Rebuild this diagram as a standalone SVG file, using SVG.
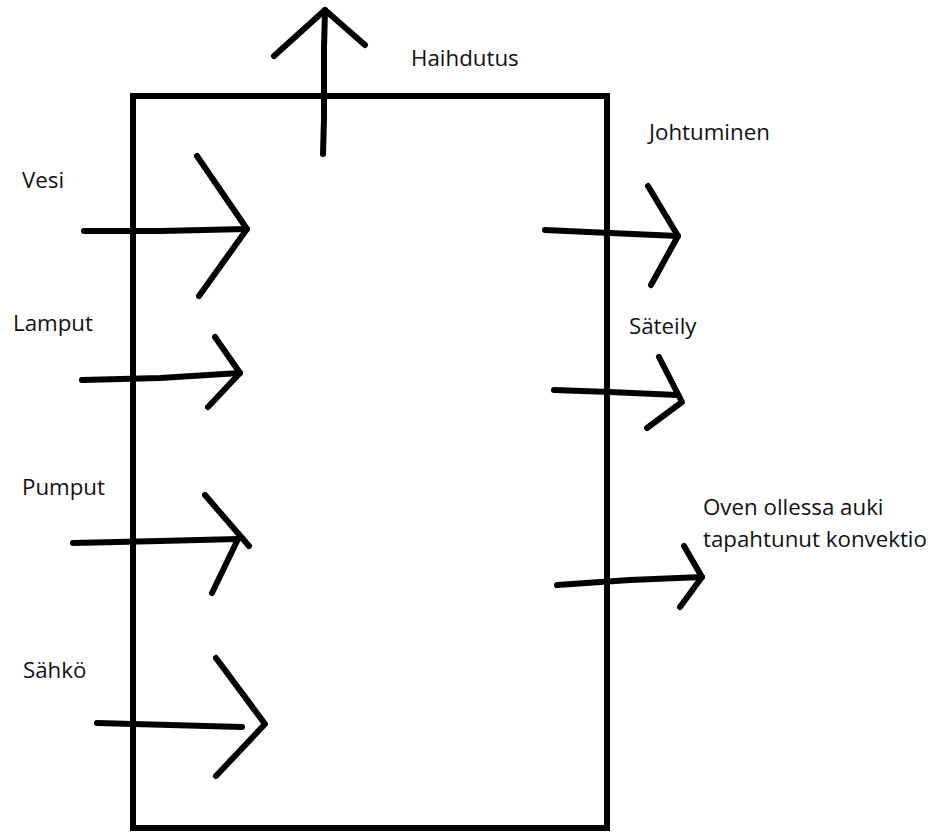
<svg xmlns="http://www.w3.org/2000/svg" width="936" height="834" viewBox="0 0 936 834">
  <style>
    .box { fill: none; stroke: #000; stroke-width: 6; stroke-linejoin: miter; }
    .stroke { fill: none; stroke: #000; stroke-width: 6; stroke-linecap: round; stroke-linejoin: round; }
    .label { font-family: "Open Sans", "Noto Sans", "Liberation Sans", sans-serif; font-size: 22.3px; fill: #111; }
  </style>
  <rect width="936" height="834" fill="#fff"/>

  <!-- the room -->
  <g id="room">
    <rect class="box" x="133" y="96" width="474" height="732"/>
  </g>

  <!-- labels -->
  <g id="haihdutus"><text class="label" x="411" y="66">Haihdutus</text></g>
  <g id="vesi"><text class="label" x="22" y="188">Vesi</text></g>
  <g id="lamput"><text class="label" x="13" y="331">Lamput</text></g>
  <g id="pumput"><text class="label" x="22" y="495">Pumput</text></g>
  <g id="sahko"><text class="label" x="23" y="678">Sähkö</text></g>
  <g id="johtuminen"><text class="label" x="649" y="140">Johtuminen</text></g>
  <g id="sateily"><text class="label" x="629" y="334">Säteily</text></g>
  <g id="konvektio">
    <text class="label" x="703" y="515">Oven ollessa auki</text>
    <text class="label" x="703" y="547">tapahtunut konvektio</text>
  </g>

  <!-- hand-drawn flow arrows -->
  <g id="connectors">
    <!-- evaporation, upward -->
    <path class="stroke" d="M323 154 L324 118 L324 48 L325 10"/>
    <path class="stroke" d="M274 56 L325 10 L365 45"/>

    <!-- inflows on the left -->
    <path class="stroke" d="M84 231 L160 231 L247 229"/>
    <path class="stroke" d="M197 156 L247 229 L199 296"/>

    <path class="stroke" d="M82 380 L160 378 L240 373"/>
    <path class="stroke" d="M215 337 L240 373 L208 407"/>

    <path class="stroke" d="M73 543 L160 541 L238 539"/>
    <path class="stroke" d="M205 495 L249 546"/>
    <path class="stroke" d="M238 539 L212 593"/>

    <path class="stroke" d="M97 723 L170 725 L242 727"/>
    <path class="stroke" d="M216 658 L265 724 L216 776"/>

    <!-- outflows on the right -->
    <path class="stroke" d="M545 230 L610 233 L678 236"/>
    <path class="stroke" d="M648 186 L678 236 L651 285"/>

    <path class="stroke" d="M554 390 L610 392 L677 395"/>
    <path class="stroke" d="M659 357 L682 402 L647 428"/>

    <path class="stroke" d="M557 585 L630 580 L702 577"/>
    <path class="stroke" d="M684 546 L702 577 L680 607"/>
  </g>
</svg>
